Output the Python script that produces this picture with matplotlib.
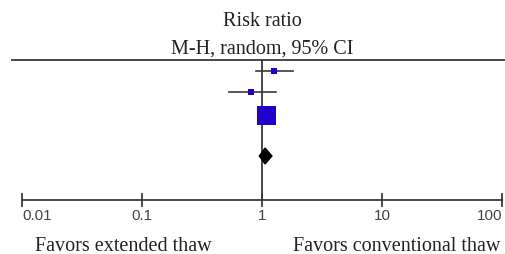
import matplotlib
matplotlib.use("Agg")
import matplotlib.pyplot as plt
import numpy as np

# Data
study_rr = [1.26, 0.81, 1.08]
study_lo = [0.89, 0.53, 1.08]
study_hi = [1.81, 1.31, 1.08]
study_size = [6, 6, 19]          # marker size in px (weight)
pooled_rr = 1.06
pooled_lo = 0.95
pooled_hi = 1.21
tick_vals = [0.01, 0.1, 1, 10, 100]
tick_labels = ["0.01", "0.1", "1", "10", "100"]

# Layout (pixel rows)
study_rows = [72, 93, 116]
pooled_row = 157
axis_row = 201
top_row = 61

W, H = 506, 255
fig = plt.figure(figsize=(W / 100, H / 100), dpi=100)
ax = fig.add_axes([0, 0, 1, 1])
ax.set_xscale("log")
ax.set_xlim(10 ** (-262 / 120), 10 ** (244 / 120))
ax.set_ylim(H, 0)
ax.axis("off")

blue = "#2200CC"
line_c = "#3a3a3a"
serif = "Liberation Serif"

# top line
x_left = 10 ** ((11 - 262) / 120)
ax.plot([x_left, 10 ** (244 / 120)], [top_row, top_row], color=line_c, lw=1.3, solid_capstyle="butt")
# null line
ax.plot([1, 1], [top_row, axis_row], color=line_c, lw=1.3)

# studies
for rr, lo, hi, s, y in zip(study_rr, study_lo, study_hi, study_size, study_rows):
    ax.plot([lo, hi], [y, y], color=line_c, lw=1.2, zorder=2)
    ax.plot([rr], [y], marker="s", color=blue, markersize=s * 0.72, markeredgewidth=0, zorder=3)

# pooled diamond
ax.fill([pooled_lo, pooled_rr, pooled_hi, pooled_rr],
        [pooled_row, pooled_row - 8, pooled_row, pooled_row + 8],
        color="black", zorder=3)

# axis
ax.plot([tick_vals[0], tick_vals[-1]], [axis_row, axis_row], color=line_c, lw=1.3)
for i, (v, lab) in enumerate(zip(tick_vals, tick_labels)):
    ax.plot([v, v], [axis_row - 6, axis_row + 6], color=line_c, lw=1.3)
    ha = "left" if i == 0 else ("right" if i == len(tick_vals) - 1 else "center")
    ax.text(v, 216, lab, ha=ha, va="center", fontsize=11, color="#444444",
            family="Liberation Sans")

# titles
ax.text(1, 22, "Risk ratio", ha="center", va="center", fontsize=14.5, family=serif, color="#222222")
ax.text(1, 49, "M-H, random, 95% CI", ha="center", va="center", fontsize=14.5, family=serif, color="#222222")

# favors
ax.text(10 ** ((123 - 262) / 120), 247, "Favors extended thaw", ha="center", va="center",
        fontsize=14.5, family=serif, color="#222222")
ax.text(10 ** ((397 - 262) / 120), 247, "Favors conventional thaw", ha="center", va="center",
        fontsize=14.5, family=serif, color="#222222")

fig.savefig("out.png", dpi=100)
